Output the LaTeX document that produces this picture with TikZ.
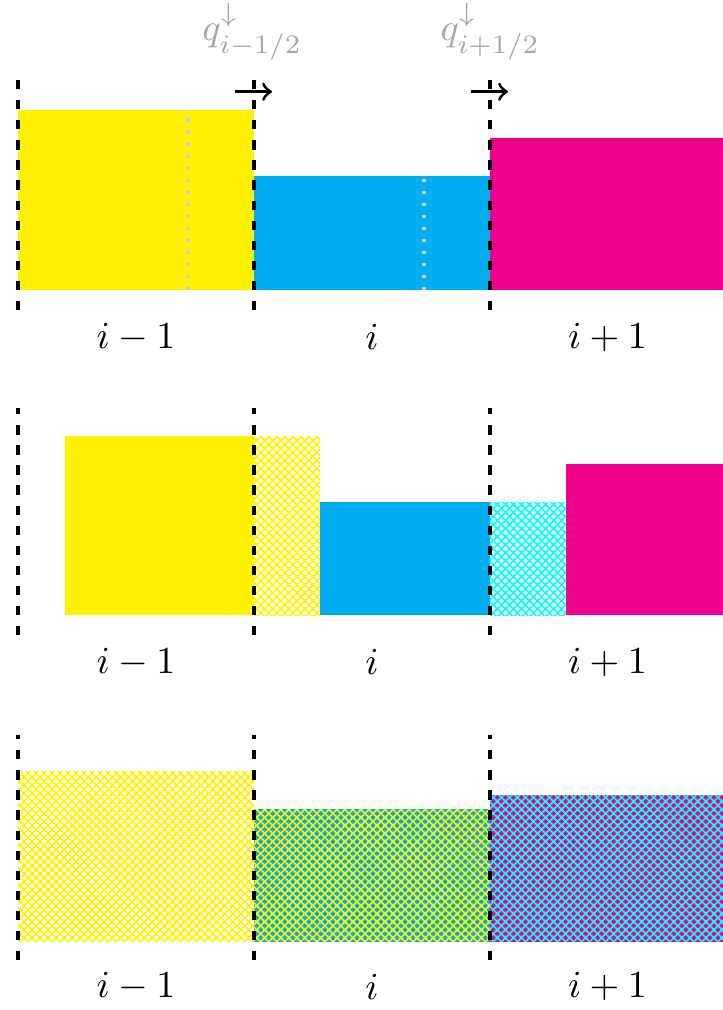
\documentclass[tikz,border=0pt]{standalone}
\usepackage{amsmath}
\usepackage{amssymb}
\usetikzlibrary{patterns.meta,arrows}

\definecolor{cellyellow}{RGB}{255,241,0}
\definecolor{cellblue}{RGB}{0,174,239}
\definecolor{cellmagenta}{RGB}{236,0,140}
\definecolor{hatchcyan}{RGB}{0,255,255}

\tikzdeclarepattern{
  name=mixhatch,
  type=uncolored,
  bounding box={(-0.5pt,-0.5pt) and (2.6pt,2.6pt)},
  tile size={(2.1pt,2.1pt)},
  code={
    \draw[line width=0.4pt] (-0.5pt,-0.5pt) -- (2.6pt,2.6pt)
                            (-0.5pt,2.6pt) -- (2.6pt,-0.5pt);
  }
}

\tikzset{
  wall/.style={line width=1.2pt,dash pattern=on 2.4pt off 2.85pt},
  midline/.style={gray!40,line width=0.8pt,dash pattern=on 0.8pt off 2.35pt},
  hatched/.style={pattern=mixhatch,pattern color=#1},
  flux/.style={thick,->},
  fluxlabel/.style={text=gray!70}
}

\begin{document}
\begin{tikzpicture}
                    \useasboundingbox (0,0) rectangle (6.652,-9.293);
                    % first row
                    \fill[cellyellow] (0.166,-2.668) rectangle (2.337,-1.012);
                    \fill[cellblue] (2.337,-2.668) rectangle (4.508,-1.619);
                    \fill[cellmagenta] (4.508,-2.668) rectangle (6.652,-1.270);
                    \draw[midline] (1.730,-2.668) -- (1.730,-1.077);
                    \draw[midline] (3.901,-2.668) -- (3.901,-1.638);
                    \draw[wall] (0.166,-2.852) -- (0.166,-0.736);
                    \draw[wall] (2.337,-2.852) -- (2.337,-0.736);
                    \draw[wall] (4.508,-2.852) -- (4.508,-0.736);
                    \coordinate (FL) at (2.162,-0.844);
                    \coordinate (FLe) at (2.503,-0.844);
                    \coordinate (FR) at (4.334,-0.844);
                    \coordinate (FRe) at (4.674,-0.844);
                    \path
                    (FL) edge[flux] (FLe)
                    (FR) edge[flux] (FRe);
                    \node[fluxlabel] (QL) at (2.32,-0.29) {$q^{\downarrow}_{i-1/2}$};
                    \node[fluxlabel] (QR) at (4.51,-0.29) {$q^{\downarrow}_{i+1/2}$};
                    \node (A1) at (1.252,-3.101) {$i-1$};
                    \node (B1) at (3.423,-3.101) {$i$};
                    \node (C1) at (5.590,-3.101) {$i+1$};
                    % second row
                    \fill[cellyellow] (0.598,-5.659) rectangle (2.337,-4.012);
                    \fill[hatched=cellyellow] (2.337,-5.659) rectangle (2.944,-4.012);
                    \fill[cellblue] (2.944,-5.659) rectangle (4.508,-4.619);
                    \fill[hatched=hatchcyan] (4.508,-5.659) rectangle (5.208,-4.619);
                    \fill[cellmagenta] (5.208,-5.659) rectangle (6.652,-4.269);
                    \draw[wall] (0.166,-5.843) -- (0.166,-3.754);
                    \draw[wall] (2.337,-5.843) -- (2.337,-3.754);
                    \draw[wall] (4.508,-5.843) -- (4.508,-3.754);
                    \node (A2) at (1.252,-6.091) {$i-1$};
                    \node (B2) at (3.423,-6.091) {$i$};
                    \node (C2) at (5.590,-6.091) {$i+1$};
                    % third row
                    \fill[hatched=cellyellow] (0.166,-8.667) rectangle (2.337,-7.103);
                    \fill[cellblue] (2.337,-8.667) rectangle (4.508,-7.444);
                    \fill[hatched=cellyellow] (2.337,-8.667) rectangle (4.508,-7.444);
                    \fill[cellmagenta] (4.508,-8.667) rectangle (6.652,-7.315);
                    \fill[hatched=hatchcyan] (4.508,-8.667) rectangle (6.652,-7.315);
                    \draw[wall] (0.166,-8.833) -- (0.166,-6.763);
                    \draw[wall] (2.337,-8.833) -- (2.337,-6.763);
                    \draw[wall] (4.508,-8.833) -- (4.508,-6.763);
                    \node (A3) at (1.252,-9.081) {$i-1$};
                    \node (B3) at (3.423,-9.081) {$i$};
                    \node (C3) at (5.590,-9.081) {$i+1$};
                    \end{tikzpicture}
\end{document}
